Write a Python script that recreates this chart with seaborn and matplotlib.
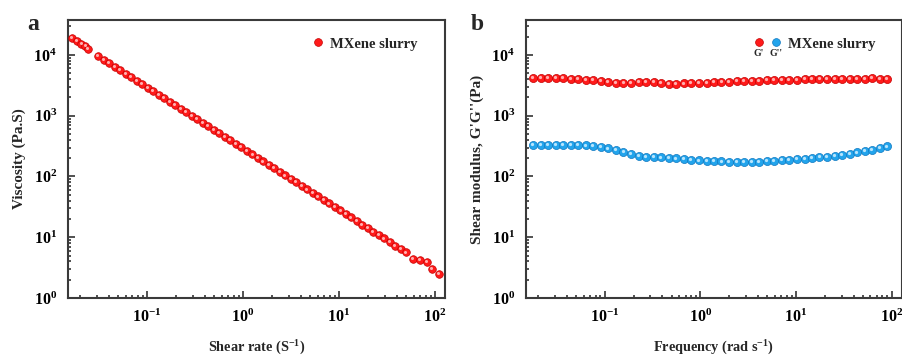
import numpy as np
import pandas as pd
import matplotlib
matplotlib.use("Agg")
import matplotlib.pyplot as plt
import matplotlib.ticker as mticker
import matplotlib.transforms as mtransforms
from matplotlib.lines import Line2D
from matplotlib.legend_handler import HandlerTuple
import seaborn as sns

# ---------------- data ----------------
shear_rate = [0.01655, 0.01854, 0.0207, 0.0228, 0.0243,
              0.0311, 0.03548, 0.04048, 0.04619, 0.0527, 0.06013, 0.06861, 0.07829,
              0.08934, 0.1019, 0.1163, 0.1327, 0.1515, 0.1728, 0.1972, 0.225,
              0.2567, 0.2929, 0.3342, 0.3814, 0.4352, 0.4966, 0.5666, 0.6465,
              0.7377, 0.8418, 0.9605, 1.096, 1.251, 1.427, 1.628, 1.858, 2.12,
              2.419, 2.76, 3.149, 3.594, 4.101, 4.679, 5.339, 6.092, 6.95, 7.931,
              9.049, 10.33, 11.78, 13.44, 15.34, 17.5, 19.97, 22.79, 26.0, 29.67,
              33.85, 38.63, 44.07, 50.29,
              59.4, 69.8, 83.2, 93.1, 110.0]
viscosity = [19100, 17300, 15400, 13970, 12450,
             9550, 8363, 7322, 6412, 5615, 4917, 4305, 3770,
             3301, 2891, 2529, 2215, 1940, 1698, 1487, 1302,
             1140, 998, 874, 765, 670, 587, 514, 450,
             394, 345, 302, 264, 231, 203, 177, 155, 136,
             119, 104, 91.3, 80.0, 70.0, 61.3, 53.7, 47.0, 41.1, 36.0,
             31.5, 27.6, 24.2, 21.2, 18.5, 16.2, 14.2, 12.4, 10.9, 9.54,
             8.35, 7.31, 6.4, 5.61,
             4.33, 4.22, 3.95, 2.96, 2.45]

frequency = [0.0178, 0.0213, 0.0256, 0.0307, 0.0368, 0.0441, 0.0529, 0.0634, 0.076, 0.0912,
             0.109, 0.131, 0.157, 0.188, 0.226, 0.271, 0.325, 0.389, 0.467, 0.56,
             0.671, 0.805, 0.965, 1.16, 1.39, 1.66, 2.0, 2.39, 2.87, 3.44,
             4.13, 4.95, 5.93, 7.11, 8.53, 10.2, 12.3, 14.7, 17.6, 21.1,
             25.3, 30.4, 36.4, 43.7, 52.4, 62.8, 75.3, 90.3]
g_storage = [4200, 4200, 4200, 4180, 4150, 4100, 4050, 3950, 3850, 3720,
             3580, 3450, 3420, 3480, 3550, 3600, 3560, 3480, 3380, 3320,
             3400, 3460, 3500, 3520, 3560, 3600, 3640, 3680, 3700, 3740,
             3780, 3820, 3860, 3900, 3920, 3950, 3980, 4000, 4020, 4050,
             4070, 4080, 4100, 4100, 4100, 4120, 4100, 4080]
g_loss = [335, 336, 335, 334, 333, 331, 328, 324, 318, 305,
          290, 272, 250, 232, 220, 213, 209, 206, 202, 198,
          192, 188, 184, 181, 179, 177, 175, 174, 174, 175,
          176, 178, 181, 185, 189, 193, 197, 202, 207, 213,
          221, 229, 239, 249, 261, 276, 293, 312]

legend_label = "MXene slurry"
panel_labels = ["a", "b"]
xlabels = [r"Shear rate (S$^{-1}$)", r"Frequency (rad s$^{-1}$)"]
ylabels = ["Viscosity (Pa.S)", "Shear modulus, G'G''(Pa)"]

RED = "#FF1A1A"
RED_EDGE = "#C40000"
RED_HI = "#FFB0B0"
BLUE = "#22A4EC"
BLUE_EDGE = "#1078C0"
BLUE_HI = "#B8E4FC"

# ---------------- style ----------------
sns.set_style("ticks")
plt.rcParams["font.family"] = ["Liberation Serif", "DejaVu Serif"]
plt.rcParams["font.weight"] = "bold"
plt.rcParams["mathtext.fontset"] = "custom"
plt.rcParams["mathtext.rm"] = "Liberation Serif:bold"
plt.rcParams["mathtext.bf"] = "Liberation Serif:bold"
plt.rcParams["mathtext.it"] = "Liberation Serif:bold"
plt.rcParams["axes.linewidth"] = 1.5

fig = plt.figure(figsize=(9.02, 3.57), dpi=100)
W, H = 902.0, 357.0
ax_a = fig.add_axes([68 / W, 1 - 298 / H, (445 - 68) / W, 278 / H])
ax_b = fig.add_axes([526 / W, 1 - 298 / H, (901.5 - 526) / W, 278 / H])

df_a = pd.DataFrame({"x": shear_rate, "y": viscosity})
df_b1 = pd.DataFrame({"x": frequency, "y": g_storage})
df_b2 = pd.DataFrame({"x": frequency, "y": g_loss})


def balls(ax, df, face, edge, hi, size):
    sns.scatterplot(data=df, x="x", y="y", ax=ax, color=face, s=size,
                    edgecolor=edge, linewidth=0.5, legend=False, zorder=3)
    tr = mtransforms.offset_copy(ax.transData, fig=fig, x=-0.9, y=0.9, units="dots")
    ax.scatter(df["x"], df["y"], s=size * 0.16, color=hi, linewidths=0,
               transform=tr, zorder=4)


balls(ax_a, df_a, RED, RED_EDGE, RED_HI, 30)
balls(ax_b, df_b1, RED, RED_EDGE, RED_HI, 34)
balls(ax_b, df_b2, BLUE, BLUE_EDGE, BLUE_HI, 34)


def fmt(v, pos):
    if v <= 0:
        return ""
    e = int(round(np.log10(v)))
    return r"$\mathbf{10^{%d}}$" % e


for ax, xl, yl in zip([ax_a, ax_b], xlabels, ylabels):
    ax.set_xscale("log")
    ax.set_yscale("log")
    ax.set_xlim(0.015, 127)
    ax.set_ylim(1, 10 ** 4.576)
    ax.xaxis.set_major_locator(mticker.LogLocator(base=10, numticks=10))
    ax.yaxis.set_major_locator(mticker.LogLocator(base=10, numticks=10))
    ax.xaxis.set_minor_locator(mticker.LogLocator(base=10, subs=np.arange(2, 10), numticks=20))
    ax.yaxis.set_minor_locator(mticker.LogLocator(base=10, subs=np.arange(2, 10), numticks=20))
    ax.xaxis.set_major_formatter(mticker.FuncFormatter(fmt))
    ax.yaxis.set_major_formatter(mticker.FuncFormatter(fmt))
    ax.xaxis.set_minor_formatter(mticker.NullFormatter())
    ax.yaxis.set_minor_formatter(mticker.NullFormatter())
    ax.tick_params(which="both", direction="in", top=False, right=False,
                   colors="#333333", labelcolor="black", width=1.2)
    ax.tick_params(which="major", length=5, labelsize=11.5, pad=8)
    ax.tick_params(which="minor", length=2.5)
    for sp in ax.spines.values():
        sp.set_visible(True)
        sp.set_color("#3a3a3a")
        sp.set_linewidth(1.5)
    ax.set_xlabel(xl, fontsize=10.3, fontweight="bold")
    ax.set_ylabel(yl, fontsize=11, fontweight="bold")
    ax.xaxis.set_label_coords(0.5, -0.148)
    ax.yaxis.set_label_coords(-0.111, 0.5)

# legends
h_red = Line2D([], [], ls="none", marker="o", ms=5.6, mfc=RED, mec=RED_EDGE, mew=0.5)
h_blue = Line2D([], [], ls="none", marker="o", ms=5.6, mfc=BLUE, mec=BLUE_EDGE, mew=0.5)
ax_a.legend([h_red], [legend_label], loc="center left", bbox_to_anchor=(0.647, 0.914),
            frameon=False, borderpad=0, borderaxespad=0, handlelength=0.8,
            handletextpad=0.42, prop={"size": 10.5, "weight": "bold"})
ax_b.legend([(h_red, h_blue)], [legend_label], loc="center left",
            bbox_to_anchor=(0.603, 0.914), frameon=False, borderpad=0, borderaxespad=0,
            handlelength=2.05, handletextpad=0.38,
            handler_map={tuple: HandlerTuple(ndivide=None, pad=0.27)},
            prop={"size": 10.5, "weight": "bold"})
ax_b.text(0.619, 0.878, "G'", transform=ax_b.transAxes, fontsize=7,
          fontweight="bold", ha="center", va="center")
ax_b.text(0.666, 0.878, "G''", transform=ax_b.transAxes, fontsize=7,
          fontweight="bold", ha="center", va="center")

fig.text(33 / W, 1 - 30 / H, panel_labels[0], fontsize=17, fontweight="bold",
         ha="center", va="baseline")
fig.text(477 / W, 1 - 30 / H, panel_labels[1], fontsize=17, fontweight="bold",
         ha="center", va="baseline")

fig.savefig("out.png", dpi=100)
